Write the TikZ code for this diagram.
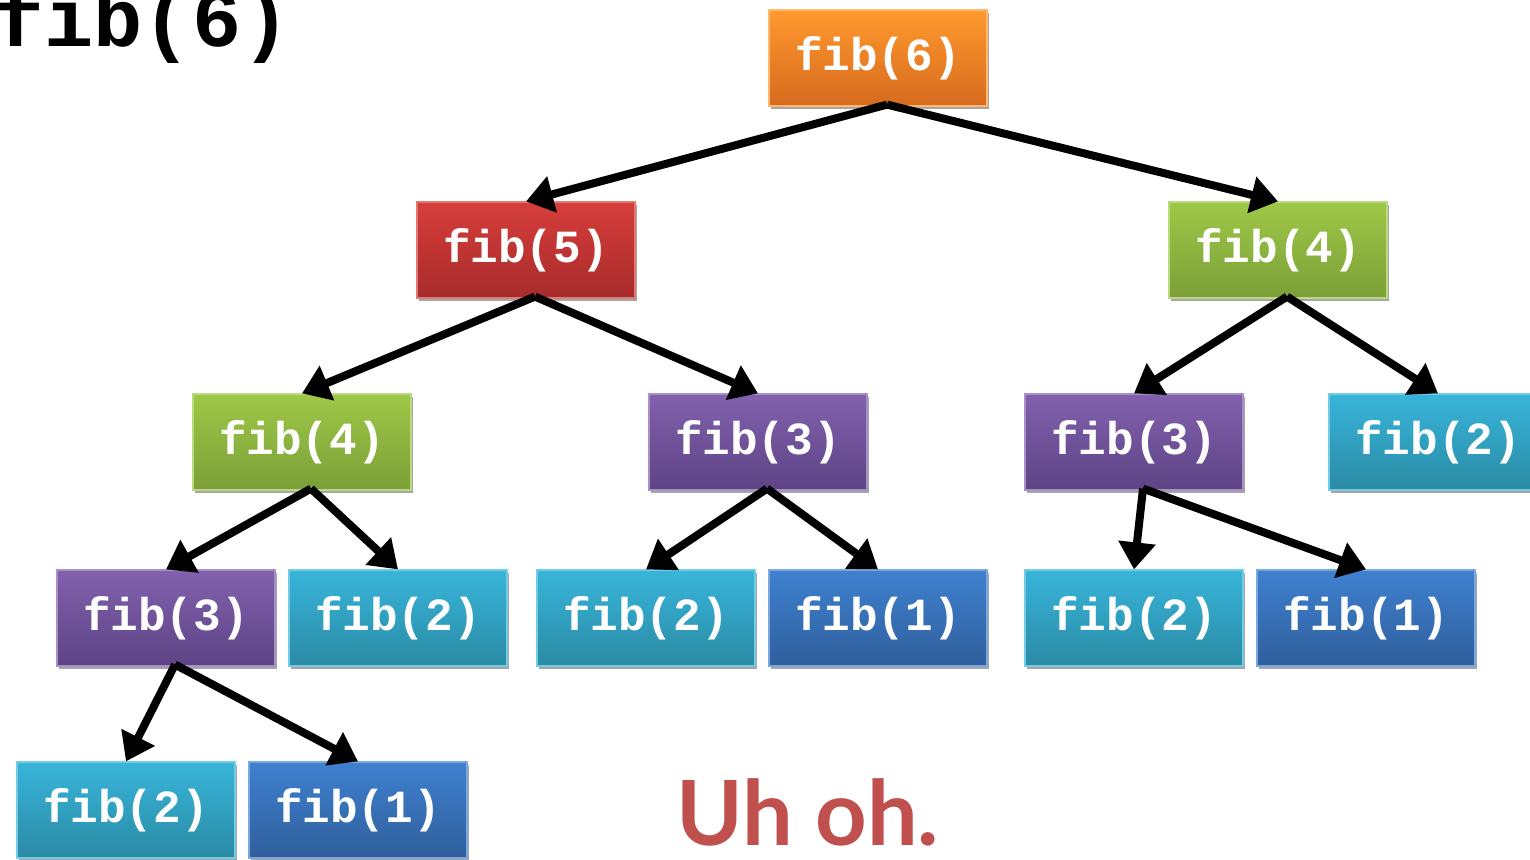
\documentclass[tikz,border=0pt]{standalone}
\usepackage{fontspec}
\setmonofont{Liberation Mono}
\newfontfamily\uhfont{Lato}
\usetikzlibrary{arrows.meta,shadows,calc}
\definecolor{orT}{HTML}{FF9A2E}\definecolor{orB}{HTML}{D66A1E}
\definecolor{rdT}{HTML}{D63E3B}\definecolor{rdB}{HTML}{A82B2B}
\definecolor{grT}{HTML}{9FC848}\definecolor{grB}{HTML}{7A9F37}
\definecolor{puT}{HTML}{8261AE}\definecolor{puB}{HTML}{5D4384}
\definecolor{cyT}{HTML}{38B5DA}\definecolor{cyB}{HTML}{2A8AA4}
\definecolor{blT}{HTML}{3F81D0}\definecolor{blB}{HTML}{2F5E9C}
\definecolor{uhred}{HTML}{C0504D}
\tikzset{
  fibbox/.style={rectangle, minimum width=218pt, minimum height=96pt, inner sep=0pt,
    line width=1.2pt, text=white,
    font=\fontsize{46}{46}\selectfont\ttfamily\bfseries,
    drop shadow={shadow xshift=2pt, shadow yshift=-3pt, opacity=0.35, fill=black}},
  cOr/.style={fibbox, top color=orT, bottom color=orB, draw=orT!70!white},
  cRd/.style={fibbox, top color=rdT, bottom color=rdB, draw=rdT!70!white},
  cGr/.style={fibbox, top color=grT, bottom color=grB, draw=grT!70!white},
  cPu/.style={fibbox, top color=puT, bottom color=puB, draw=puT!70!white},
  cCy/.style={fibbox, top color=cyT, bottom color=cyB, draw=cyT!70!white},
  cBl/.style={fibbox, top color=blT, bottom color=blB, draw=blT!70!white},
  call/.style={line width=8pt, -{Triangle[length=27pt,width=36pt]}}
}
\begin{document}
\begin{tikzpicture}[x=1pt,y=-1pt]
\useasboundingbox (0,0) rectangle (1530,859);
\clip (0,0) rectangle (1530,859);
\node[anchor=base west, inner sep=0pt, font=\fontsize{82}{82}\selectfont\ttfamily\bfseries] (title) at (-5,47) {fib(6)};
% nodes
\node[cOr] (n6) at (878,58) {fib(6)};
\node[cRd] (n5) at (526,250) {fib(5)};
\node[cGr] (n4r) at (1278,250) {fib(4)};
\node[cGr] (n4l) at (302,442) {fib(4)};
\node[cPu] (n3m) at (758,442) {fib(3)};
\node[cPu] (n3r) at (1134,442) {fib(3)};
\node[cCy] (n2r) at (1438,442) {fib(2)};
\node[cPu] (n3l) at (166,618) {fib(3)};
\node[cCy] (n2a) at (398,618) {fib(2)};
\node[cCy] (n2b) at (646,618) {fib(2)};
\node[cBl] (n1b) at (878,618) {fib(1)};
\node[cCy] (n2c) at (1134,618) {fib(2)};
\node[cBl] (n1c) at (1366,618) {fib(1)};
\node[cCy] (n2d) at (126,810) {fib(2)};
\node[cBl] (n1d) at (358,810) {fib(1)};
\node[anchor=base, inner sep=0pt, text=uhred, font=\fontsize{90}{90}\selectfont\uhfont\bfseries] (uh) at (808,845) {Uh oh.};
% connectors
\foreach \p/\c in {n6/n5, n6/n4r, n5/n4l, n5/n3m, n4r/n3r, n4r/n2r, n4l/n3l, n4l/n2a, n3m/n2b, n3m/n1b, n3r/n2c, n3r/n1c, n3l/n2d, n3l/n1d}
  \draw[call] ($(\p.south)+(9,-2)$) -- (\c.north);
\end{tikzpicture}
\end{document}
